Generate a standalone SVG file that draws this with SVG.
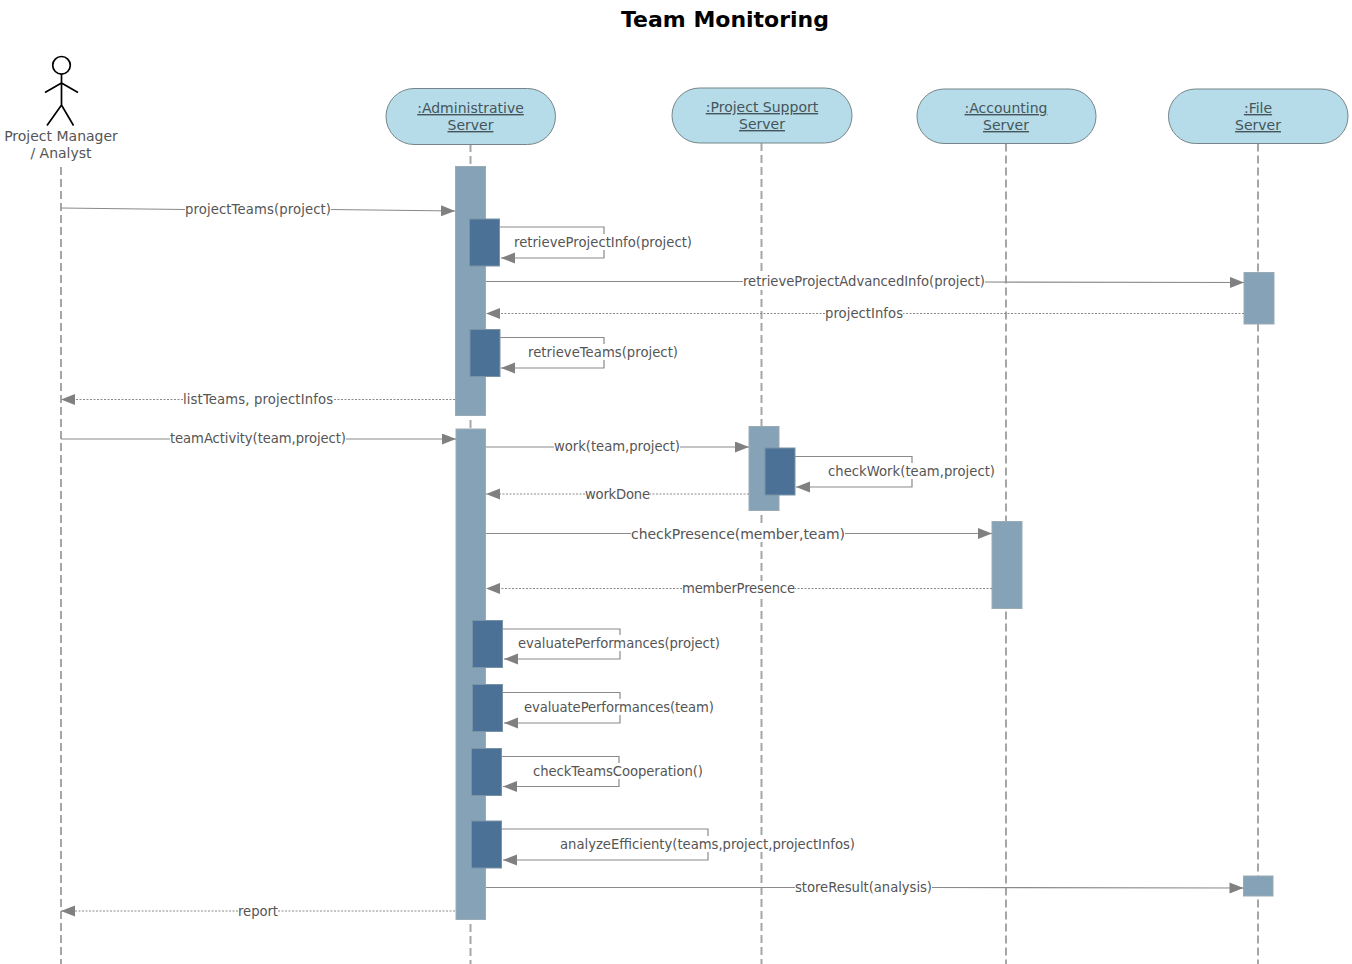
<svg xmlns="http://www.w3.org/2000/svg" width="1352" height="964" viewBox="0 0 1352 964">
<style>
text{font-family:"DejaVu Sans",Verdana,sans-serif;fill:#555;text-anchor:middle}
.title{font-size:22px;font-weight:bold;fill:#000}
.head{fill:#b5dce8;stroke:#75858a;stroke-width:1}
.hl{font-size:14px;text-decoration:underline;fill:#46555c}
.life{stroke:#a6a6a6;stroke-width:2;stroke-dasharray:8 4;fill:none}
.act{fill:#85a2b6;stroke:#9aabb5;stroke-width:1}
.inner{fill:#4b7296;stroke:#7a92a6;stroke-width:1}
.msg{fill:none;stroke:#8a8a8a;stroke-width:1.2}
.ret{fill:none;stroke:#8a8a8a;stroke-width:1;stroke-dasharray:2 1.5}
.lab{font-size:13.2px}
.bg{fill:#fff}
.actor{fill:none;stroke:#000;stroke-width:1.7}
</style>
<defs>
<marker id="arrow" markerUnits="userSpaceOnUse" markerWidth="15" markerHeight="12" refX="14" refY="5.5" orient="auto"><path d="M0,0 L14,5.500 L0,11 z" fill="#808080"/></marker>
</defs>
<rect width="1352" height="964" fill="#fff"/>
<text class="title" x="725" y="27">Team Monitoring</text>

<g id="actor-manager">
<path class="life" d="M61,167V964"/>
<circle class="actor" cx="61.500" cy="65.300" r="8.800"/>
<path class="actor" d="M61.500,74V105M45,92.500L61.500,83L78,92.500M47,125.500L61.500,105L73.500,125.500"/>
<text x="61" y="141" font-size="14">Project Manager</text>
<text x="61" y="158" font-size="14">/ Analyst</text>
</g>
<g id="administrative-server">
<path class="life" d="M470.500,144V964"/>
<rect class="head" x="386" y="88.500" width="169.500" height="56" rx="28"/>
<text class="hl" x="470.500" y="113">:Administrative</text>
<text class="hl" x="470.500" y="130">Server</text>
<rect class="act" x="455.500" y="166.500" width="30" height="249"/>
<rect class="act" x="456" y="429" width="29.500" height="490.500"/>
<rect class="inner" x="469.500" y="219" width="30" height="47"/>
<rect class="inner" x="470" y="329.500" width="30" height="47"/>
<rect class="inner" x="472.500" y="620.500" width="30" height="47"/>
<rect class="inner" x="472.500" y="684.500" width="30" height="47"/>
<rect class="inner" x="471.500" y="748.500" width="30" height="47"/>
<rect class="inner" x="471.500" y="821" width="30" height="47"/>
</g>
<g id="project-support-server">
<path class="life" d="M761.500,143V964"/>
<rect class="head" x="672" y="88" width="180" height="55" rx="27.500"/>
<text class="hl" x="762" y="112">:Project Support</text>
<text class="hl" x="762" y="129">Server</text>
<rect class="act" x="749" y="426.500" width="30" height="84"/>
<rect class="inner" x="765" y="448" width="30" height="47"/>
</g>
<g id="accounting-server">
<path class="life" d="M1006,143.500V964"/>
<rect class="head" x="917" y="89" width="179" height="54.500" rx="27"/>
<text class="hl" x="1006" y="113">:Accounting</text>
<text class="hl" x="1006" y="130">Server</text>
<rect class="act" x="992" y="521.500" width="30" height="87"/>
</g>
<g id="file-server">
<path class="life" d="M1258,143.500V964"/>
<rect class="head" x="1168.500" y="89" width="179.500" height="54.500" rx="27"/>
<text class="hl" x="1258" y="113">:File</text>
<text class="hl" x="1258" y="130">Server</text>
<rect class="act" x="1244" y="272.500" width="30" height="51.500"/>
<rect class="act" x="1243.500" y="876" width="29.500" height="20"/>
</g>

<g id="connectors">
<path class="msg" d="M61,208L185,209.500M331,209.500L455,211" marker-end="url(#arrow)"/>
<text class="lab" x="258" y="214" textLength="146">projectTeams(project)</text>
<path class="msg" d="M500,227H604V234M604,250V258H501" marker-end="url(#arrow)"/>
<text class="lab" x="603" y="247" textLength="178">retrieveProjectInfo(project)</text>
<path class="msg" d="M486,281.500H743M985,282L1244,282.500" marker-end="url(#arrow)"/>
<rect class="bg" x="743" y="274" width="242" height="16"/>
<text class="lab" x="864" y="286" textLength="242">retrieveProjectAdvancedInfo(project)</text>
<path class="ret" d="M1244,313.500H903M825,313.500H486" marker-end="url(#arrow)"/>
<text class="lab" x="864" y="318" textLength="78">projectInfos</text>
<path class="msg" d="M500,337.500H604V344M604,360V368H501" marker-end="url(#arrow)"/>
<text class="lab" x="603" y="357" textLength="150">retrieveTeams(project)</text>
<path class="ret" d="M455,399.500H333M183,399.500H61" marker-end="url(#arrow)"/>
<text class="lab" x="258" y="404" textLength="150">listTeams, projectInfos</text>
<path class="msg" d="M61,439H170M346,439H456" marker-end="url(#arrow)"/>
<text class="lab" x="258" y="443" textLength="176">teamActivity(team,project)</text>
<path class="msg" d="M486,447H554M680,447H749" marker-end="url(#arrow)"/>
<text class="lab" x="617" y="451" textLength="126">work(team,project)</text>
<path class="msg" d="M795,456.500H912V463M912,479V487H796" marker-end="url(#arrow)"/>
<text class="lab" x="911.500" y="476" textLength="167">checkWork(team,project)</text>
<path class="ret" d="M749,494H650M585,494H486" marker-end="url(#arrow)"/>
<text class="lab" x="617.500" y="498.500" textLength="65">workDone</text>
<path class="msg" d="M486,533.500H631M845,533.500H992" marker-end="url(#arrow)"/>
<rect class="bg" x="631" y="525" width="214" height="17"/>
<text x="738" y="538.500" font-size="14" textLength="214">checkPresence(member,team)</text>
<path class="ret" d="M992,588.500H795M682,588.500H486" marker-end="url(#arrow)"/>
<rect class="bg" x="682" y="581" width="113" height="16"/>
<text class="lab" x="738.500" y="593" textLength="113">memberPresence</text>
<path class="msg" d="M502.500,629H620V635M620,651V659H504" marker-end="url(#arrow)"/>
<text class="lab" x="619" y="648" textLength="202">evaluatePerformances(project)</text>
<path class="msg" d="M502.500,692.500H620V699M620,715V723H504" marker-end="url(#arrow)"/>
<text class="lab" x="619" y="712" textLength="190">evaluatePerformances(team)</text>
<path class="msg" d="M501.500,756.500H619V763M619,779V786.500H503" marker-end="url(#arrow)"/>
<text class="lab" x="618" y="776" textLength="170">checkTeamsCooperation()</text>
<path class="msg" d="M501.500,829H708V836M708,852V860H503" marker-end="url(#arrow)"/>
<rect class="bg" x="560" y="836" width="295" height="16"/>
<text class="lab" x="707.500" y="849" textLength="295">analyzeEfficienty(teams,project,projectInfos)</text>
<path class="msg" d="M486,887.500H795M932,887.500L1243.500,888" marker-end="url(#arrow)"/>
<text class="lab" x="863.500" y="892" textLength="137">storeResult(analysis)</text>
<path class="ret" d="M455,911H278M238,911H61" marker-end="url(#arrow)"/>
<text class="lab" x="258" y="916" textLength="40">report</text>
</g>
</svg>
